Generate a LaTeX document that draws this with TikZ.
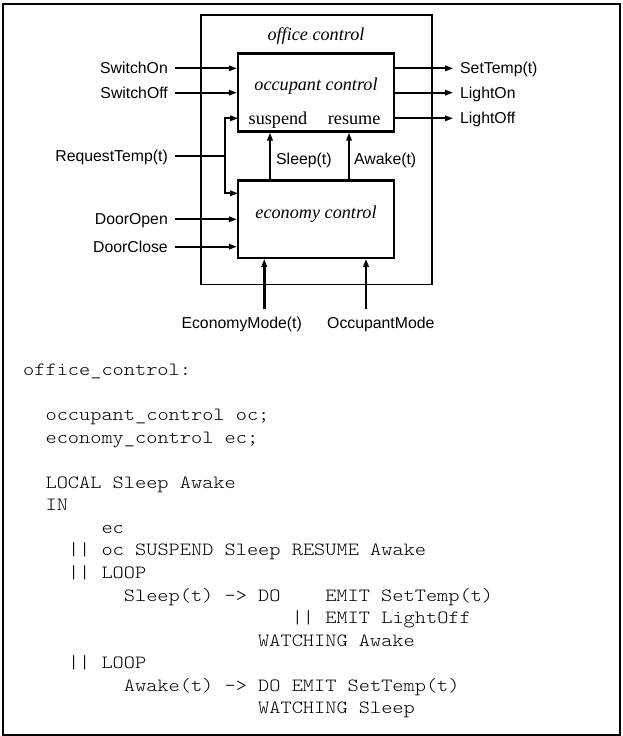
\documentclass[tikz,border=0pt]{standalone}
\usepackage{fontspec}
\setmainfont{Liberation Serif}
\setsansfont{Liberation Sans}
\setmonofont{lmmonolt10-regular.otf}[FakeStretch=1.143]
\usetikzlibrary{arrows.meta}

\begin{document}
\begin{tikzpicture}[x=1pt, y=-1pt, >={Triangle[length=8pt,width=5.5pt]}]
\tikzstyle{block}=[draw, line width=2.4pt, inner sep=0pt]
\tikzstyle{title}=[font=\fontsize{18.2}{20}\selectfont\itshape, anchor=base, inner sep=0pt]
\tikzstyle{port}=[font=\fontsize{18.2}{20}\selectfont, anchor=base, inner sep=0pt]
\tikzstyle{signal}=[font=\fontsize{15.8}{18}\sffamily, text height=11.3pt, text depth=0pt, inner ysep=0pt, inner xsep=0pt]
\tikzstyle{inlabel}=[signal, anchor=east, inner xsep=7pt]
\tikzstyle{outlabel}=[signal, anchor=west, inner xsep=7pt]
\tikzstyle{wire}=[->, line width=1.7pt]
\tikzstyle{heavy}=[->, line width=2.8pt]
\tikzstyle{code}=[font=\fontsize{18.65}{22}\ttfamily, anchor=base west, inner sep=0pt]

\useasboundingbox (0,0) rectangle (623,736);
\draw[line width=2pt] (3.3,3.5) rectangle (620.3,734.8);

% the blocks
\node[block, line width=1.8pt, minimum width=231pt, minimum height=269.5pt] (office) at (316.5,149.75) {};
\node[block, minimum width=156pt, minimum height=78.2pt] (occ) at (316,92.4) {};
\node[block, minimum width=156pt, minimum height=77.4pt] (eco) at (316,219) {};

\node[title] (officet) at (316,40.5) {office control};
\node[title] (occt) at (316,90) {occupant control};
\node[title] (ecot) at (316,218) {economy control};
\node[port] (susp) at (278,124) {suspend};
\node[port] (resm) at (354.2,124) {resume};

% inputs
\node[inlabel] (swon) at (175,68.3) {SwitchOn};
\node[inlabel] (swoff) at (175,92.7) {SwitchOff};
\node[inlabel] (rqt) at (175,156) {RequestTemp(t)};
\node[inlabel] (dopen) at (175,219.3) {DoorOpen};
\node[inlabel] (dclose) at (175,246.7) {DoorClose};

\draw[wire] (swon) -- (swon -| occ.west);
\draw[wire] (swoff) -- (swoff -| occ.west);
\draw[wire] (dopen) -- (dopen -| eco.west);
\draw[wire] (dclose) -- (dclose -| eco.west);

\coordinate (split) at (225.3,156);
\coordinate (suspin) at (238,118.3);
\coordinate (ecoin) at (238,193.3);
\draw[line width=1.7pt] (rqt) -- (split);
\draw[wire] (split) |- (suspin);
\draw[wire] (split) |- (ecoin);

% outputs
\node[outlabel] (settemp) at (453,68.3) {SetTemp(t)};
\node[outlabel] (lighton) at (453,92.7) {LightOn};
\node[outlabel] (lightoff) at (453,118.3) {LightOff};

\draw[wire] (settemp -| occ.east) -- (settemp);
\draw[wire] (lighton -| occ.east) -- (lighton);
\draw[wire] (lightoff -| occ.east) -- (lightoff);

% local signals
\node[signal, anchor=west] (sleep) at (276,159.3) {Sleep(t)};
\node[signal, anchor=west] (awake) at (354,159.3) {Awake(t)};
\coordinate (sl) at (270,156);
\coordinate (aw) at (349,156);
\draw[heavy] (sl |- eco.north) -- (sl |- occ.south);
\draw[wire] (aw |- eco.north) -- (aw |- occ.south);

% modes
\node[signal] (ecomode) at (241.7,323) {EconomyMode(t)};
\node[signal] (occmode) at (380.8,323) {OccupantMode};
\coordinate (em) at (264.3,309.3);
\coordinate (om) at (366,309.3);
\draw[heavy] (em) -- (em |- eco.south);
\draw[heavy] (om) -- (om |- eco.south);

% the program
\node[code] (c0) at (23,375.5) {office\_control:};
\node[code] (c2) at (45.4,420.6) {occupant\_control oc;};
\node[code] (c3) at (45.4,443.2) {economy\_control ec;};
\node[code] (c5) at (45.4,488.3) {LOCAL Sleep Awake};
\node[code] (c6) at (45.4,510.8) {IN};
\node[code] (c7) at (101.3,533.4) {ec};
\node[code] (c8) at (67.8,555.9) {|| oc SUSPEND Sleep RESUME Awake};
\node[code] (c9) at (67.8,578.5) {|| LOOP};
\node[code] (c10) at (123.7,601) {Sleep(t) -> DO};
\node[code] (c10b) at (325.1,601) {EMIT SetTemp(t)};
\node[code] (c11) at (291.6,623.5) {|| EMIT LightOff};
\node[code] (c12) at (258,646.1) {WATCHING Awake};
\node[code] (c13) at (67.8,668.6) {|| LOOP};
\node[code] (c14) at (123.7,691.2) {Awake(t) -> DO EMIT SetTemp(t)};
\node[code] (c15) at (258,713.7) {WATCHING Sleep};
\end{tikzpicture}
\end{document}
